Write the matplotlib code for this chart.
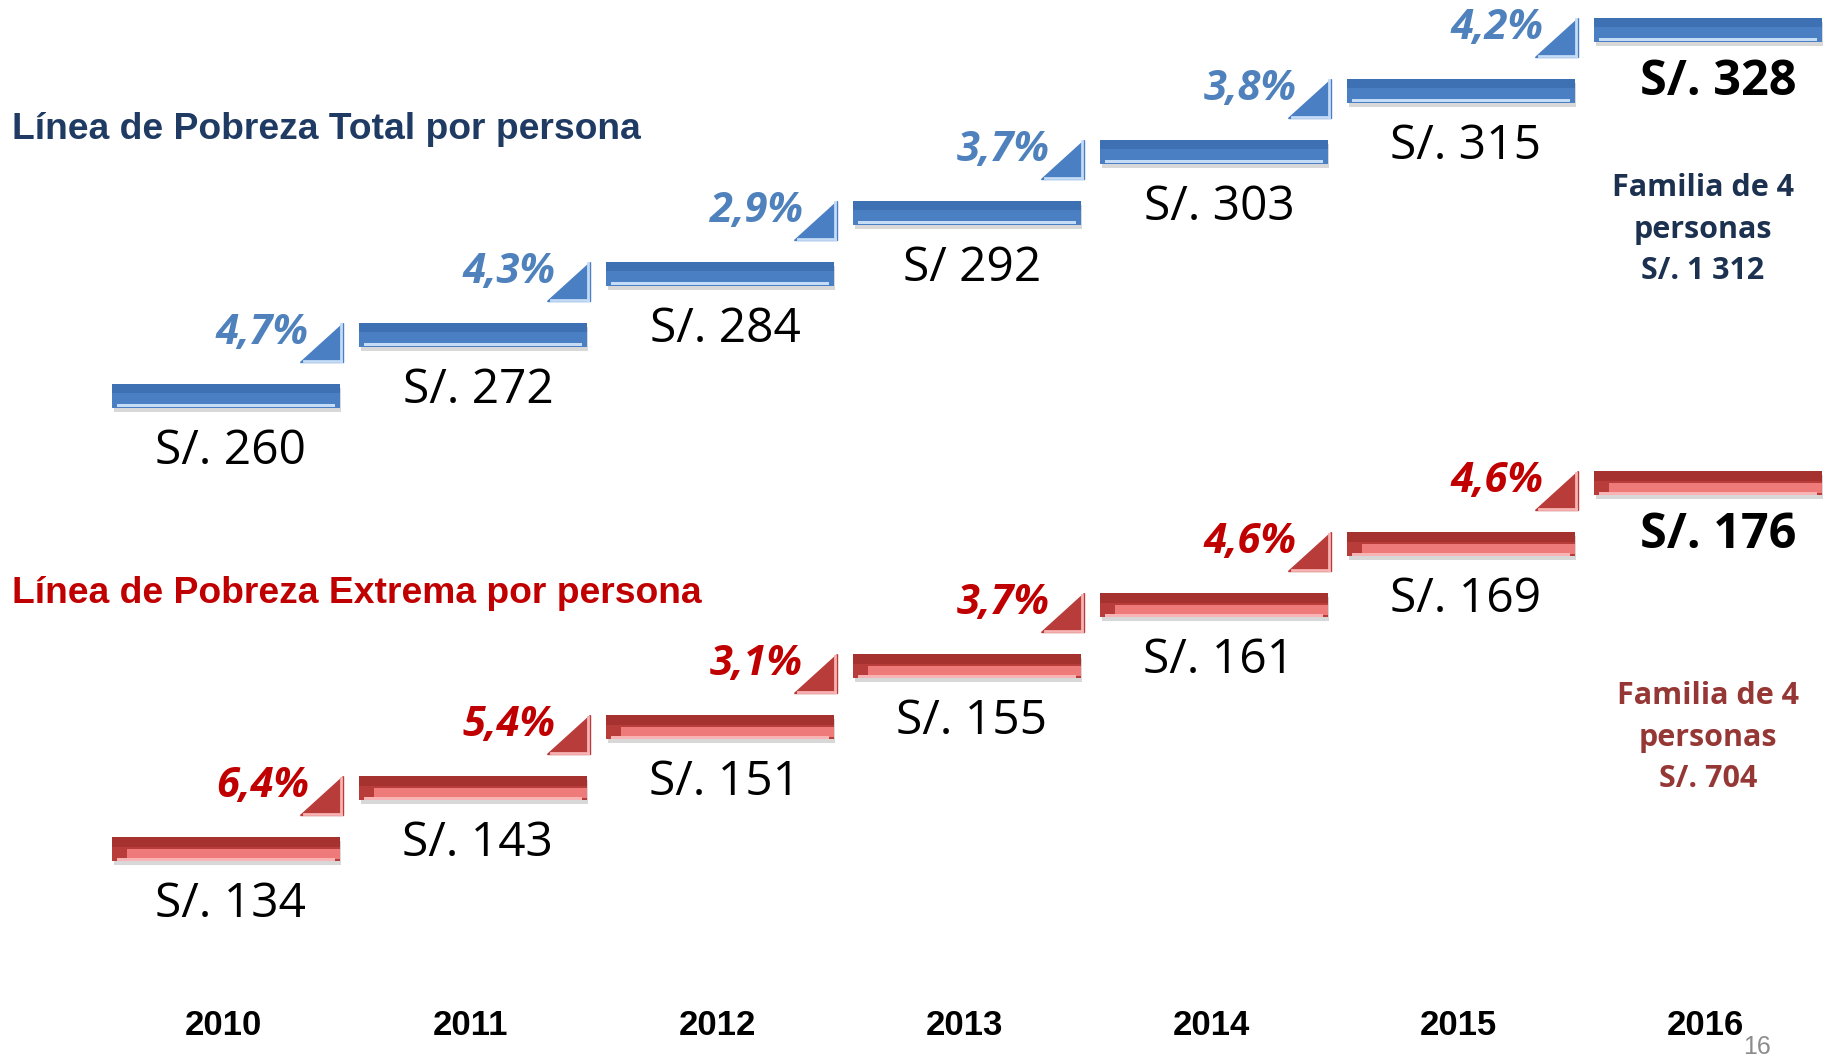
import matplotlib.pyplot as plt

years = ["2010", "2011", "2012", "2013", "2014", "2015", "2016"]
total_labels = ["S/. 260", "S/. 272", "S/. 284", "S/ 292", "S/. 303", "S/. 315", "S/. 328"]
total_pct = ["4,7%", "4,3%", "2,9%", "3,7%", "3,8%", "4,2%"]
extrema_labels = ["S/. 134", "S/. 143", "S/. 151", "S/. 155", "S/. 161", "S/. 169", "S/. 176"]
extrema_pct = ["6,4%", "5,4%", "3,1%", "3,7%", "4,6%", "4,6%"]

blue_offset = 7.43  # the total line staircase sits above the extreme one

fig = plt.figure(figsize=(18.24, 10.58), dpi=100)
ax = fig.add_axes([0, 0, 1, 1])
ax.set_xlim(-0.915, 6.47)
ax.set_ylim(-3.426, 13.918)
ax.axis("off")

styles = {
    "blue": dict(base="#4a7fc4", top="#2f609f", light="#c4dcf5", band=None, pct="#4f81bd"),
    "red": dict(base="#b83c3a", top="#922826", light="#f8b4b4", band="#ee7a7a", pct="#c00000"),
}


def draw_series(labels, pcts, offset, st):
    idx = list(range(len(labels)))
    lev = [offset + i for i in idx]
    # drop shadow
    ax.barh([l - 0.07 for l in lev], 0.92, left=[i - 0.455 for i in idx], height=0.4,
            color="#7f7f7f", alpha=0.3, zorder=1)
    ax.barh(lev, 0.92, left=[i - 0.46 for i in idx], height=0.4,
            color=st["base"], zorder=2)
    ax.barh([l + 0.12 for l in lev], 0.92, left=[i - 0.46 for i in idx], height=0.16,
            color=st["top"], alpha=0.45, zorder=3)
    if st["band"]:
        ax.barh([l - 0.08 for l in lev], 0.86, left=[i - 0.40 for i in idx], height=0.16,
                color=st["band"], zorder=3)
    ax.barh([l - 0.165 for l in lev], 0.88, left=[i - 0.44 for i in idx], height=0.05,
            color=st["light"], zorder=3)

    for i, lab in zip(idx, labels):
        last = i == len(labels) - 1
        ax.text(i + (0.04 if last else 0.02), offset + i - (0.86 if last else 0.91), lab,
                ha="center", va="center", family="Open Sans",
                fontsize=35 if last else 34.5,
                fontweight="bold" if last else "normal", color="black", zorder=5)

    for i, p in zip(idx[1:], pcts):
        l = offset + i
        ax.fill([i - 0.70, i - 0.525, i - 0.525], [l - 0.45, l - 0.45, l + 0.2],
                color=st["base"], zorder=3)
        ax.plot([i - 0.685, i - 0.535], [l - 0.43, l - 0.43], color=st["light"],
                lw=2, zorder=4)
        ax.plot([i - 0.535, i - 0.535], [l - 0.43, l + 0.17], color=st["light"],
                lw=2, zorder=4)
        ax.text(i - 0.665, l + 0.02, p, ha="right", va="center", family="Open Sans",
                fontsize=30, fontweight="bold", style="italic", color=st["pct"], zorder=5)


draw_series(total_labels, total_pct, blue_offset, styles["blue"])
draw_series(extrema_labels, extrema_pct, 0, styles["red"])

fig.text(0.0066, 0.878, "Línea de Pobreza Total por persona", ha="left", va="center",
         family="Liberation Sans", fontsize=26.8, fontweight="bold", color="#1f3b63")
fig.text(0.0066, 0.439, "Línea de Pobreza Extrema por persona", ha="left", va="center",
         family="Liberation Sans", fontsize=26.8, fontweight="bold", color="#c00000")

ax.text(5.98, blue_offset + 2.72, "Familia de 4\npersonas\nS/. 1 312", ha="center", va="center",
        family="Open Sans", fontsize=22, fontweight="bold", color="#1c3150", linespacing=1.5)
ax.text(6.0, 1.82, "Familia de 4\npersonas\nS/. 704", ha="center", va="center",
        family="Open Sans", fontsize=22, fontweight="bold", color="#953735", linespacing=1.5)

trans = ax.get_xaxis_transform()
for i, y in enumerate(years):
    ax.text(i - 0.01, 0.031, y, transform=trans, ha="center", va="center",
            family="Liberation Sans", fontsize=25, fontweight="bold", color="black")

fig.text(0.963, 0.0104, "16", ha="center", va="center", family="Liberation Sans",
         fontsize=18, color="#8c8c8c")

fig.savefig("out.png", dpi=100)
